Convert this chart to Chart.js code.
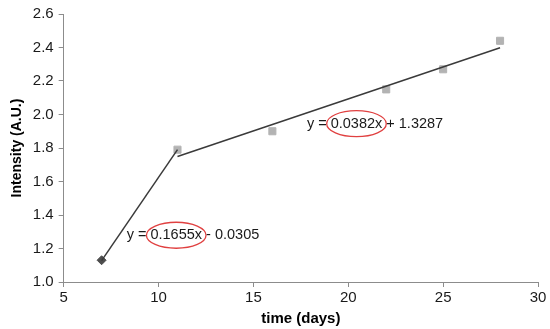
<!DOCTYPE html>
<html>
<head>
<meta charset="utf-8">
<script src="https://cdn.jsdelivr.net/npm/chart.js@4.4.0/dist/chart.umd.min.js"></script>
<style>
  html, body { margin: 0; padding: 0; background: #fff; }
  #wrap { width: 550px; height: 329px; }
</style>
</head>
<body>
<div id="wrap"><canvas id="intensityChart" width="550" height="329"></canvas></div>
<script>
// measured points
const earlyDays = [7];
const earlyIntensity = [1.13];
const lateDays = [11, 16, 22, 25, 28];
const lateIntensity = [1.79, 1.90, 2.15, 2.27, 2.44];

// fitted trend line end points
const fit1Days = [7, 11];
const fit1Values = [1.128, 1.790];
const fit2Days = [11, 28];
const fit2Values = [1.749, 2.398];

const fitLabels = [
    { text: 'y = ', coef: '0.1655x', rest: ' - 0.0305', x: 8.32, y: 1.279 },
    { text: 'y = ', coef: '0.0382x', rest: ' + 1.3287', x: 17.82, y: 1.945 }
];

function toPoints(xs, ys) {
    return xs.map((x, i) => ({ x: x, y: ys[i] }));
}

const FONT = '"Liberation Sans", Arial, sans-serif';

// draws the equations with a red ring around the slope
const equationPlugin = {
    id: 'equations',
    afterDatasetsDraw(chart) {
        const ctx = chart.ctx;
        const xs = chart.scales.x, ys = chart.scales.y;
        ctx.save();
        ctx.font = '14.5px ' + FONT;
        ctx.textBaseline = 'middle';
        ctx.fillStyle = '#1a1a1a';
        fitLabels.forEach(l => {
            let px = xs.getPixelForValue(l.x);
            const py = ys.getPixelForValue(l.y);
            ctx.fillText(l.text, px, py);
            px += ctx.measureText(l.text).width;
            const w = ctx.measureText(l.coef).width;
            ctx.fillText(l.coef, px, py);
            ctx.beginPath();
            ctx.ellipse(px + w / 2, py, w / 2 + 4, 13, 0, 0, Math.PI * 2);
            ctx.strokeStyle = '#e04040';
            ctx.lineWidth = 1.3;
            ctx.stroke();
            ctx.fillText(l.rest, px + w, py);
        });
        ctx.restore();
    }
};

new Chart(document.getElementById('intensityChart'), {
    type: 'scatter',
    data: {
        datasets: [
            {
                data: toPoints(fit1Days, fit1Values),
                showLine: true,
                borderColor: '#3a3a3a',
                borderWidth: 1.5,
                pointRadius: 0
            },
            {
                data: toPoints(fit2Days, fit2Values),
                showLine: true,
                borderColor: '#3a3a3a',
                borderWidth: 1.5,
                pointRadius: 0
            },
            {
                data: toPoints(earlyDays, earlyIntensity),
                pointStyle: 'rectRot',
                pointRadius: 4.5,
                backgroundColor: '#4d4d4d',
                borderColor: '#4d4d4d'
            },
            {
                data: toPoints(lateDays, lateIntensity),
                pointStyle: 'rect',
                pointRadius: 5,
                backgroundColor: '#b3b3b3',
                borderColor: '#b3b3b3'
            }
        ]
    },
    options: {
        responsive: false,
        animation: false,
        layout: { padding: { top: 12, right: 12, left: 5, bottom: 1 } },
        plugins: {
            legend: { display: false },
            tooltip: { enabled: false }
        },
        scales: {
            x: {
                type: 'linear',
                min: 5,
                max: 30,
                ticks: { stepSize: 5, color: '#1a1a1a', font: { family: FONT, size: 15 }, padding: 2 },
                grid: { drawOnChartArea: false, tickLength: 5, color: '#8c8c8c' },
                border: { color: '#8c8c8c' },
                title: { display: true, text: 'time (days)', color: '#000', font: { family: FONT, size: 15, weight: 'bold' }, padding: { top: 1, bottom: 0 } }
            },
            y: {
                min: 1.0,
                max: 2.6,
                ticks: { stepSize: 0.2, color: '#1a1a1a', font: { family: FONT, size: 15 }, padding: 5,
                    callback: v => v.toFixed(1) },
                grid: { drawOnChartArea: false, tickLength: 5, color: '#8c8c8c' },
                border: { color: '#8c8c8c' },
                title: { display: true, text: 'Intensity (A.U.)', color: '#000', font: { family: FONT, size: 14, weight: 'bold' }, padding: { bottom: 2 } }
            }
        }
    },
    plugins: [equationPlugin]
});
</script>
</body>
</html>
